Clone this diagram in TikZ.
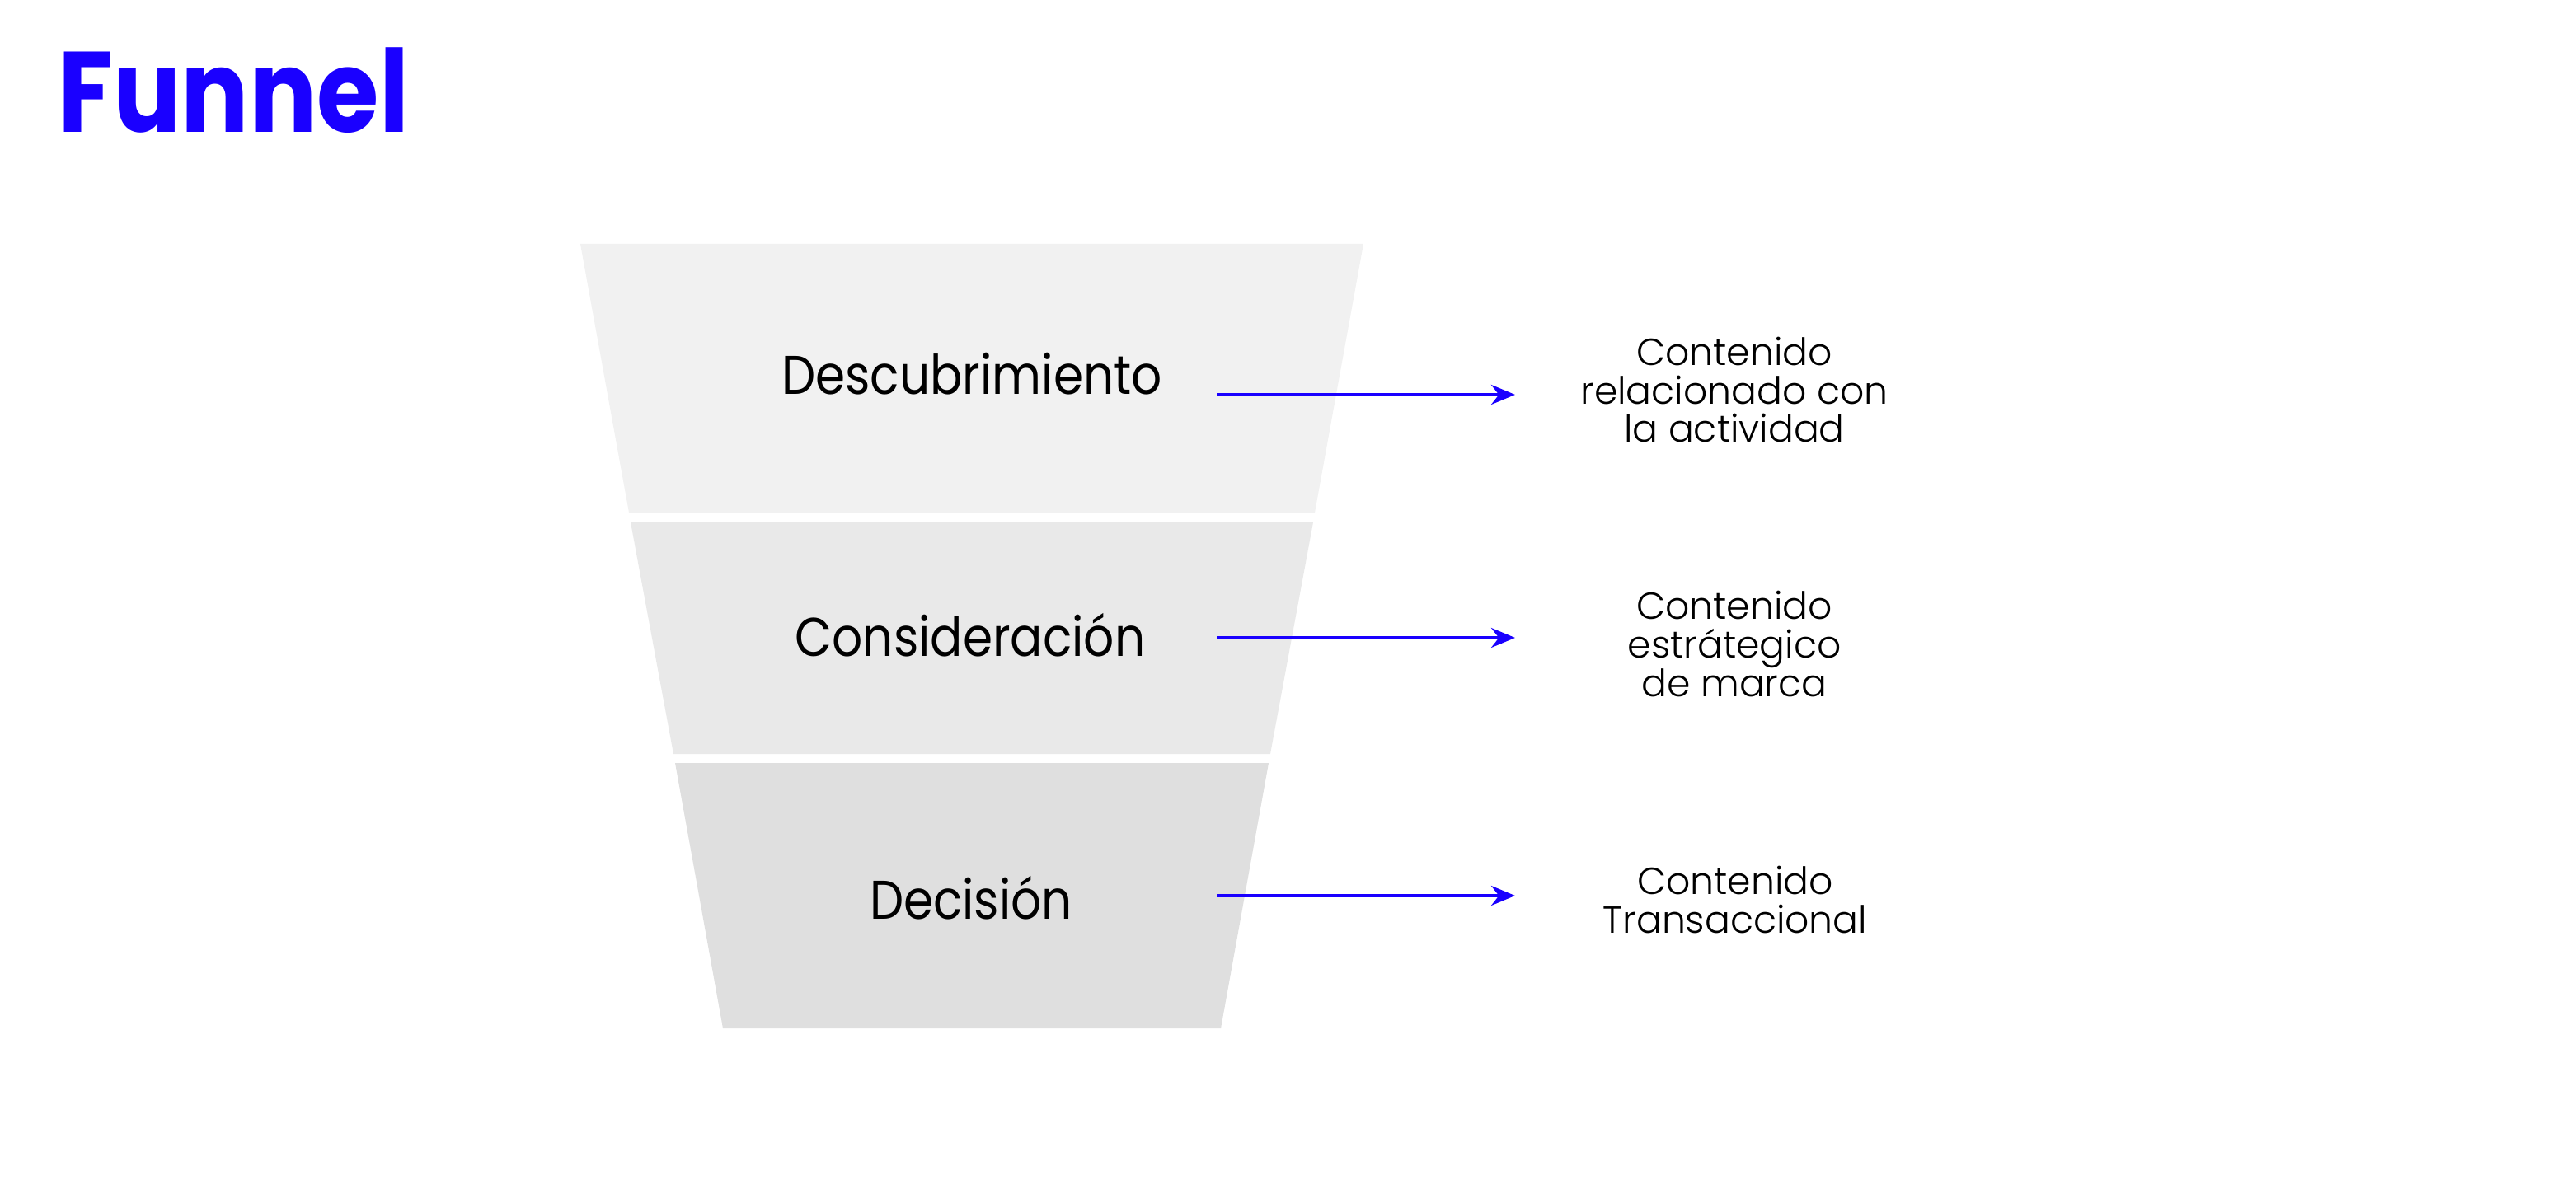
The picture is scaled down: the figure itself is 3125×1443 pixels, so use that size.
\documentclass[tikz,border=0pt]{standalone}
\usepackage{fontspec}
\setmainfont{Poppins}
\newfontfamily\lightfont{Poppins Light}
\newfontfamily\narrowfont[FakeStretch=0.88]{Poppins}
\usepackage{tikz}
\usetikzlibrary{arrows.meta,positioning,calc}

\definecolor{funnelblue}{HTML}{1A00FF}
\definecolor{bandA}{HTML}{F1F1F1}
\definecolor{bandB}{HTML}{E9E9E9}
\definecolor{bandC}{HTML}{DFDFDF}

\begin{document}
\begin{tikzpicture}[x=0.01cm, y=-0.01cm,
    stage/.style={anchor=base, inner sep=0pt, font=\narrowfont\fontsize{18.8}{22}\selectfont},
    content/.style={anchor=base, align=center, inner sep=0pt, font=\lightfont\fontsize{13}{13.35}\selectfont},
    flow/.style={-{Stealth[length=0.29cm, width=0.24cm]}, draw=funnelblue, line width=1.15pt}]
            \useasboundingbox (0,0) rectangle (3125,1443);

            \node[anchor=base west, inner sep=0pt, text=funnelblue, font=\narrowfont\bfseries\fontsize{39.5}{40}\selectfont] (title) at (70,161) {Funnel};

            % funnel bands
            \fill[bandA] (704,296) -- (1654,296) -- (1595,622) -- (763,622) -- cycle;
            \fill[bandB] (765,634) -- (1593,634) -- (1541,915) -- (817,915) -- cycle;
            \fill[bandC] (819,926) -- (1539,926) -- (1481,1248) -- (877,1248) -- cycle;

            \node[stage] (descub) at (1179,479) {Descubrimiento};
            \node[stage] (consid) at (1177,796) {Consideración};
            \node[stage] (decis) at (1178,1115) {Decisión};

            % base of a multi-line node = its last line
            \node[content] (cont1) at (2104,537) {Contenido\\relacionado con\\la actividad};
            \node[content] (cont2) at (2104,845) {Contenido\\estrátegico\\de marca};
            \node[content] (cont3) at (2105,1132) {Contenido\\Transaccional};

            \coordinate (s1) at (1476,479);
            \coordinate (e1) at (1838,479);
            \coordinate (s2) at (1476,774);
            \coordinate (e2) at (1838,774);
            \coordinate (s3) at (1476,1087);
            \coordinate (e3) at (1838,1087);
            \draw[flow] (s1) -- (e1);
            \draw[flow] (s2) -- (e2);
            \draw[flow] (s3) -- (e3);
        \end{tikzpicture}
\end{document}
